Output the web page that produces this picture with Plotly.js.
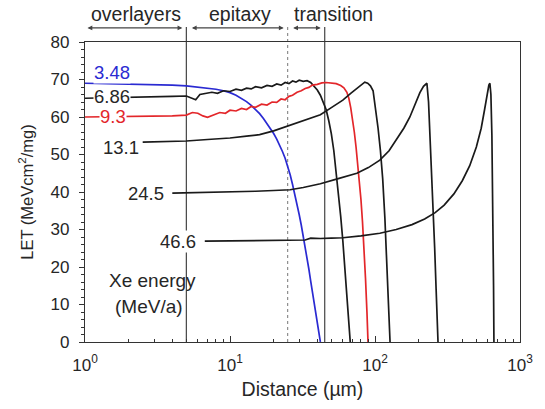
<!DOCTYPE html>
<html><head><meta charset="utf-8">
<script src="https://cdn.plot.ly/plotly-3.0.1.min.js"></script>
<style>html,body{margin:0;padding:0;background:#fff}#chart{width:545px;height:409px}</style>
</head><body><div id="chart"></div>
<script>
// Xe energy labels (MeV/a)
const energies = ['3.48', '6.86', '9.3', '13.1', '24.5', '46.6'];
const colors = ['#2a2ad2', '#1a1a1a', '#e3262a', '#1a1a1a', '#1a1a1a', '#1a1a1a'];

// Distance (µm) and LET (MeV cm2/mg) for each energy
const x348 = [1, 1.5, 2, 3, 4, 5, 6, 7, 8, 9, 10, 11, 12, 13, 14, 15, 16, 17, 18, 19, 20, 21, 22, 23, 24, 25, 26, 27, 28, 29, 30, 31, 32, 33, 34, 35, 36, 37, 38, 39, 40, 41, 42];
const y348 = [69, 68.9, 68.8, 68.7, 68.5, 68.3, 68, 67.7, 67.4, 67, 66.5, 65.8, 65, 64.1, 63.1, 62, 60.9, 59.6, 58.3, 57, 55.6, 54.1, 52.5, 50.8, 49, 47, 44.6, 42, 39.4, 36.8, 34, 31.2, 28.3, 25.4, 22.4, 19.4, 16.3, 13.2, 10.1, 7.1, 4.3, 1.8, 0];

const x686 = [1, 1.5, 2, 3, 4, 5, 5.4, 5.8, 6.2, 6.8, 7.5, 8.2, 9, 10, 11, 12, 13, 14, 15, 16.5, 18, 19.5, 21, 22.5, 24, 25.5, 27, 28.5, 30, 32, 34, 36, 38, 40, 42, 44, 46, 48, 50, 52, 54, 56, 58, 60, 62, 64, 66, 67.5];
const y686 = [65, 65.1, 65.2, 65.4, 65.5, 65.6, 65, 64.6, 66, 66.2, 66.6, 66.3, 67, 66.8, 67.4, 67.1, 67.7, 67.5, 68.1, 67.8, 68.4, 68.2, 68.8, 68.5, 69.2, 68.9, 69.6, 69.3, 69.8, 69.5, 69.7, 69.2, 68.3, 67.2, 65.8, 64, 62, 59, 55.5, 51, 45.5, 40, 33.5, 27, 20, 12, 5, 0];

const x93 = [1, 2, 3, 4, 5, 5.5, 6, 6.5, 7, 7.7, 8.5, 9.3, 10, 11, 12, 13, 14, 15, 16.5, 18, 19.5, 21, 22.5, 24, 25.5, 27, 29, 31, 33, 35, 37, 40, 43, 46, 50, 54, 58, 61, 64, 66, 68, 70, 72, 74, 76, 78, 80, 82, 84, 86, 88, 89.5];
const y93 = [60, 60.1, 60.2, 60.3, 60.5, 61.2, 61, 60.3, 59.9, 60.6, 61.2, 61, 61.8, 61.6, 62.3, 62, 62.8, 62.6, 63.4, 63.2, 64, 63.9, 64.8, 64.6, 65.5, 65.8, 66.6, 67, 67.6, 67.9, 68.5, 68.7, 69.1, 69.2, 69.1, 68.9, 68.4, 67.8, 66.6, 65, 62.5, 59.5, 56, 52, 47.5, 43, 38, 32, 25, 17, 8, 0];

const x131 = [2.5, 3, 4, 5, 7, 10, 13, 16, 20, 25, 30, 36, 42, 50, 60, 68, 75, 80, 85, 89, 93, 97, 101, 105, 109, 113, 117, 121, 124, 127];
const y131 = [53.3, 53.4, 53.5, 53.6, 54, 54.4, 54.9, 55.3, 56.3, 57.6, 58.8, 59.7, 60.6, 62.5, 64.5, 66.3, 67.7, 68.6, 69.3, 69, 68.3, 67, 62.5, 57, 51, 43.5, 33, 21, 10, 0];

const x245 = [4, 6, 10, 15, 20, 26, 32, 42, 55, 75, 90, 108, 125, 141, 158, 174, 190, 204, 216, 223, 228, 234, 240, 246, 252, 258, 264, 269, 272];
const y245 = [39.7, 39.8, 40, 40.2, 40.4, 40.6, 41.2, 42.2, 43.5, 45, 46.5, 48.5, 51, 54, 57, 60, 63.5, 66.5, 68.2, 68.8, 69, 64, 55, 45, 35, 25, 14, 5, 0];

const x466 = [6.7, 10, 15, 20, 25, 30, 33, 36, 42, 50, 60, 80, 108, 140, 180, 220, 260, 300, 350, 400, 450, 500, 540, 570, 595, 610, 620, 630, 640, 650, 657, 661];
const y466 = [26.9, 27, 27.1, 27.2, 27.3, 27.3, 27.2, 27.7, 27.6, 27.7, 27.8, 28.3, 29, 30, 31.3, 32.8, 34.5, 36.5, 39.5, 43, 47, 52, 57, 62, 66.5, 68.5, 69, 66, 55, 38, 15, 0];

// Region boundaries (µm) and names
const regionBounds = [1, 5, 25, 45];
const regionNames = ['overlayers', 'epitaxy', 'transition'];

const xs = [x348, x686, x93, x131, x245, x466];
const ys = [y348, y686, y93, y131, y245, y466];

const traces = xs.map((x, i) => ({
  x: x, y: ys[i], type: 'scatter', mode: 'lines',
  line: {color: colors[i], width: 1.7},
  name: energies[i], showlegend: false, hoverinfo: 'skip'
}));

const txt = '#262626';
const fontFam = 'Arial, "Liberation Sans", Helvetica, sans-serif';
const lg = Math.log10;

// label placement (log10 x, LET y)
const labelPos = [[0.058, 71.9], [0.058, 65.6], [0.095, 60.2], [0.12, 51.8], [0.29, 39.5], [0.51, 26.7]];

const annotations = energies.map((e, i) => ({
  text: e, xref: 'x', yref: 'y', x: labelPos[i][0], y: labelPos[i][1],
  xanchor: 'left', yanchor: 'middle', showarrow: false,
  font: {size: 18.5, color: colors[i] === '#1a1a1a' ? txt : colors[i], family: fontFam},
  bgcolor: 'rgba(255,255,255,1)', borderpad: 0
}));
annotations.push({text: 'Xe energy', xref: 'x', yref: 'y', x: 0.15, y: 16.5, xanchor: 'left', yanchor: 'middle', showarrow: false, font: {size: 19, color: txt, family: fontFam}});
annotations.push({text: '(MeV/a)', xref: 'x', yref: 'y', x: 0.19, y: 9.6, xanchor: 'left', yanchor: 'middle', showarrow: false, font: {size: 19, color: txt, family: fontFam}});

// region arrows and names
for (let i = 0; i < regionNames.length; i++) {
  const a = lg(regionBounds[i]), b = lg(regionBounds[i + 1]);
  annotations.push({
    text: '', xref: 'x', yref: 'paper', x: b, y: 1.047, axref: 'x', ayref: 'pixel', ax: a, ay: 0,
    showarrow: true, arrowside: 'end+start', arrowhead: 2, startarrowhead: 2, arrowsize: 0.8, startarrowsize: 0.8,
    arrowwidth: 1.2, arrowcolor: '#444', standoff: 4, startstandoff: i === 0 ? 1 : 4
  });
}
annotations.push({text: regionNames[0], xref: 'x', yref: 'paper', x: (lg(regionBounds[0]) + lg(regionBounds[1])) / 2, y: 1.093, xanchor: 'center', yanchor: 'middle', showarrow: false, font: {size: 19.5, color: txt, family: fontFam}});
annotations.push({text: regionNames[1], xref: 'x', yref: 'paper', x: (lg(regionBounds[1]) + lg(regionBounds[2])) / 2 + 0.02, y: 1.093, xanchor: 'center', yanchor: 'middle', showarrow: false, font: {size: 19.5, color: txt, family: fontFam}});
annotations.push({text: regionNames[2], xref: 'x', yref: 'paper', x: lg(regionBounds[2]) + 0.03, y: 1.093, xanchor: 'left', yanchor: 'middle', showarrow: false, font: {size: 19.5, color: txt, family: fontFam}});

// boundary lines
const shapes = regionBounds.slice(1).map((b, i) => ({
  type: 'line', xref: 'x', yref: 'paper', x0: b, x1: b, y0: 0, y1: 1.05,
  line: {color: i === 1 ? '#777' : '#444', width: i === 1 ? 1 : 1.2, dash: i === 1 ? 'dot' : 'solid'},
  layer: 'below'
}));

const minorX = [];
for (let d = 1; d < 1000; d *= 10) for (let k = 2; k <= 9; k++) minorX.push(k * d);

const layout = {
  width: 545, height: 409,
  margin: {l: 85, r: 25, t: 42, b: 67},
  paper_bgcolor: '#fff', plot_bgcolor: '#fff',
  font: {family: fontFam, color: txt},
  showlegend: false,
  xaxis: {
    type: 'log', range: [0, 3],
    tickmode: 'array', tickvals: [1, 10, 100, 1000],
    ticktext: ['10<sup>0</sup>', '10<sup>1</sup>', '10<sup>2</sup>', '10<sup>3</sup>'],
    ticks: 'inside', ticklen: 6, tickcolor: '#333', tickwidth: 1,
    minor: {tickmode: 'array', tickvals: minorX, ticks: 'inside', ticklen: 3, tickcolor: '#333', showgrid: false},
    showline: true, linecolor: '#333', linewidth: 1.2, mirror: true,
    showgrid: false, zeroline: false,
    tickfont: {size: 17, color: txt},
    ticklabelstandoff: 7,
    title: {text: 'Distance (µm)', font: {size: 19.5, color: txt}, standoff: 8}
  },
  yaxis: {
    range: [0, 80], dtick: 10, tick0: 0,
    ticks: 'outside', ticklen: 5, tickcolor: '#333', tickwidth: 1,
    minor: {dtick: 2, ticks: 'outside', ticklen: 3, tickcolor: '#333', showgrid: false},
    showline: true, linecolor: '#333', linewidth: 1.2, mirror: true,
    showgrid: false, zeroline: false,
    tickfont: {size: 17, color: txt},
    ticklabelstandoff: 6,
    title: {text: 'LET (MeVcm<sup>2</sup>/mg)', font: {size: 16.5, color: txt}, standoff: 12}
  },
  annotations: annotations,
  shapes: shapes
};

Plotly.newPlot('chart', traces, layout, {staticPlot: true, displayModeBar: false});
</script>
</body></html>
